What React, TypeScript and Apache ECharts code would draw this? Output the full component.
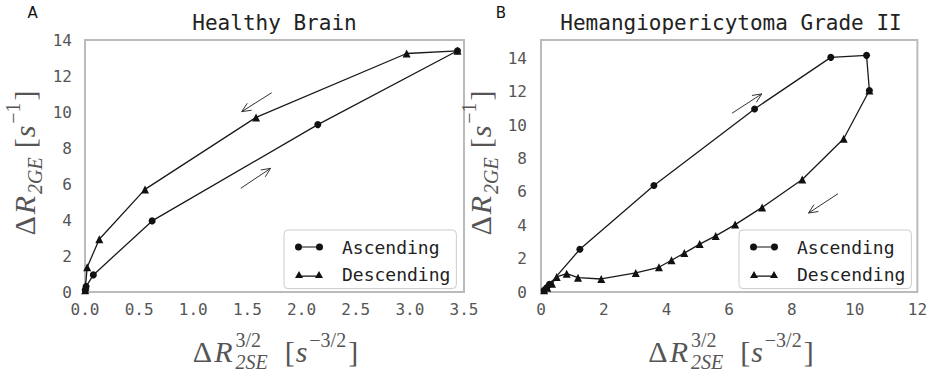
import { useEffect, useRef } from 'react';
import * as echarts from 'echarts';

// Healthy brain: ascending and descending branches of the hysteresis loop
const healthyAscX = [0.003, 0.01, 0.077, 0.62, 2.15, 3.44];
const healthyAscY = [0.08, 0.3, 0.95, 3.95, 9.3, 13.4];
const healthyDescX = [3.44, 2.97, 1.58, 0.554, 0.132, 0.02, 0.005, 0.002];
const healthyDescY = [13.4, 13.25, 9.7, 5.7, 2.93, 1.38, 0.35, 0.1];

// Hemangiopericytoma grade II
const tumorAscX = [0.1, 0.18, 0.27, 1.24, 3.6, 6.81, 9.24, 10.38, 10.47];
const tumorAscY = [0.1, 0.26, 0.46, 2.56, 6.38, 10.97, 14.06, 14.18, 12.07];
const tumorDescX = [10.47, 9.65, 8.33, 7.05, 6.19, 5.57, 5.06, 4.57, 4.16, 3.76, 3.02, 1.92, 1.18, 0.82, 0.5, 0.35, 0.2, 0.1];
const tumorDescY = [12.07, 9.18, 6.74, 5.07, 4.04, 3.36, 2.87, 2.33, 1.9, 1.48, 1.14, 0.78, 0.86, 1.1, 0.9, 0.5, 0.25, 0.1];

// Direction arrows [x0, y0, x1, y1]
const healthyArrows = [
  [1.724, 11.07, 1.447, 10.02],
  [1.438, 5.76, 1.714, 6.87],
];
const tumorArrows = [
  [6.09, 10.71, 7.04, 11.87],
  [9.47, 5.89, 8.53, 4.73],
];

const panelTitles = ['Healthy Brain', 'Hemangiopericytoma Grade II'];
const panelLetters = ['A', 'B'];
const seriesNames = ['Ascending', 'Descending'];

const MONO = '"DejaVu Sans Mono", monospace';
const MATH = '"Liberation Serif", serif';
const LABEL_GRAY = '#555';
const INK = '#1a1a1a';

const zip = (xs: number[], ys: number[]) => xs.map((x, i) => [x, ys[i]]);

const ASC_ICON =
  'path://M0,4A3.5,3.5 0 1 1 7,4A3.5,3.5 0 1 1 0,4Z M21,4A3.5,3.5 0 1 1 28,4A3.5,3.5 0 1 1 21,4Z M3.5,3.4L24.5,3.4L24.5,4.6L3.5,4.6Z';
const DESC_ICON =
  'path://M0,8L4,1L8,8Z M20,8L24,1L28,8Z M4,5.4L24,5.4L24,6.6L4,6.6Z';

type Piece = { t: string; size: number; italic?: boolean; dy?: number; overlap?: boolean; gap?: number };

// Lays out a small math expression as a row of text pieces; an "overlap"
// piece shares its x position with the next one (stacked super/subscript).
function mathLabel(pieces: Piece[], cx: number, cy: number, vertical: boolean) {
  const ctx = document.createElement('canvas').getContext('2d')!;
  const placed: { p: Piece; x: number }[] = [];
  let x = 0;
  let held = 0;
  for (const p of pieces) {
    x += p.gap ?? 0;
    ctx.font = `${p.italic ? 'italic ' : ''}${p.size}px ${MATH}`;
    const w = ctx.measureText(p.t).width;
    placed.push({ p, x });
    if (p.overlap) {
      held = w;
    } else {
      x += Math.max(w, held);
      held = 0;
    }
  }
  const total = x;
  return {
    type: 'group',
    x: cx,
    y: cy,
    rotation: vertical ? Math.PI / 2 : 0,
    children: placed.map(({ p, x: px }) => ({
      type: 'text',
      x: px - total / 2,
      y: p.dy ?? 0,
      style: {
        text: p.t,
        fontSize: p.size,
        fontFamily: MATH,
        fontStyle: p.italic ? 'italic' : 'normal',
        fill: LABEL_GRAY,
        textAlign: 'left',
        textVerticalAlign: 'middle',
      },
    })),
  };
}

const xLabelPieces: Piece[] = [
  { t: 'Δ', size: 30 },
  { t: 'R', size: 30, italic: true, gap: 2 },
  { t: '3/2', size: 20, dy: -11, overlap: true, gap: 3 },
  { t: '2SE', size: 20, italic: true, dy: 11 },
  { t: '[', size: 30, gap: 17 },
  { t: 's', size: 30, italic: true, gap: 1 },
  { t: '−3/2', size: 20, dy: -11, gap: 2 },
  { t: ']', size: 30, gap: 2 },
];
const yLabelPieces: Piece[] = [
  { t: 'Δ', size: 30 },
  { t: 'R', size: 30, italic: true, gap: 2 },
  { t: '2GE', size: 20, italic: true, dy: 11, gap: 2 },
  { t: '[', size: 30, gap: 9 },
  { t: 's', size: 30, italic: true, gap: 1 },
  { t: '−1', size: 20, dy: -11, gap: 2 },
  { t: ']', size: 30, gap: 2 },
];

const grids = [
  { left: 85, top: 40, width: 379, height: 252 },
  { left: 541, top: 40, width: 380, height: 252 },
];

function arrowItem(params: any, api: any) {
  const p0 = api.coord([api.value(0), api.value(1)]);
  const p1 = api.coord([api.value(2), api.value(3)]);
  const ang = Math.atan2(p1[1] - p0[1], p1[0] - p0[0]);
  const len = 10;
  const spread = 0.42;
  const a = [p1[0] - len * Math.cos(ang - spread), p1[1] - len * Math.sin(ang - spread)];
  const b = [p1[0] - len * Math.cos(ang + spread), p1[1] - len * Math.sin(ang + spread)];
  const style = { stroke: '#333', lineWidth: 1, fill: null };
  return {
    type: 'group',
    children: [
      { type: 'line', shape: { x1: p0[0], y1: p0[1], x2: p1[0], y2: p1[1] }, style },
      { type: 'polyline', shape: { points: [a, p1, b] }, style },
    ],
  };
}

export default function App() {
  const ref = useRef<HTMLDivElement>(null);

  useEffect(() => {
    if (!ref.current) return;
    const chart = echarts.init(ref.current, null, { renderer: 'svg' });

    const tickLabel = {
      fontFamily: MONO,
      fontSize: 16,
      color: LABEL_GRAY,
    };
    const hidden = { show: false };

    const lineSeries = (name: string, data: number[][], idx: number, triangle: boolean) => ({
      name,
      type: 'line',
      xAxisIndex: idx,
      yAxisIndex: idx,
      data,
      symbol: triangle ? 'triangle' : 'circle',
      symbolSize: triangle ? 8 : 7,
      showSymbol: true,
      lineStyle: { color: INK, width: 1.3 },
      itemStyle: { color: '#111' },
      emphasis: { disabled: true },
      z: triangle ? 2 : 3,
    });

    chart.setOption({
      animation: false,
      backgroundColor: '#fff',
      grid: grids.map((g) => ({
        ...g,
        show: true,
        borderColor: '#bbb',
        borderWidth: 2,
        backgroundColor: 'transparent',
        containLabel: false,
      })),
      xAxis: [
        {
          gridIndex: 0,
          type: 'value',
          min: 0,
          max: 3.5,
          interval: 0.5,
          axisLine: hidden,
          axisTick: hidden,
          splitLine: hidden,
          axisLabel: { ...tickLabel, margin: 9, formatter: (v: number) => v.toFixed(1) },
        },
        {
          gridIndex: 1,
          type: 'value',
          min: 0,
          max: 12,
          interval: 2,
          axisLine: hidden,
          axisTick: hidden,
          splitLine: hidden,
          axisLabel: { ...tickLabel, margin: 9 },
        },
      ],
      yAxis: [
        {
          gridIndex: 0,
          type: 'value',
          min: 0,
          max: 14,
          interval: 2,
          axisLine: hidden,
          axisTick: hidden,
          splitLine: hidden,
          axisLabel: { ...tickLabel, margin: 13 },
        },
        {
          gridIndex: 1,
          type: 'value',
          min: 0,
          max: 15.1,
          interval: 2,
          axisLine: hidden,
          axisTick: hidden,
          splitLine: hidden,
          axisLabel: {
            ...tickLabel,
            margin: 14,
            showMaxLabel: false,
            formatter: (v: number) => (Math.abs(v % 2) < 1e-9 ? String(v) : ''),
          },
        },
      ],
      legend: grids.map((g, i) => ({
        orient: 'vertical',
        left: i === 0 ? 284 : 739,
        top: 230,
        data: [
          { name: seriesNames[0], icon: ASC_ICON },
          { name: seriesNames[1], icon: DESC_ICON },
        ],
        itemWidth: 28,
        itemHeight: 8,
        itemGap: 5.6,
        padding: [6, 6, 3, 11],
        backgroundColor: '#fff',
        borderColor: '#ccc',
        borderWidth: 1,
        borderRadius: 4,
        selectedMode: false,
        textStyle: {
          fontFamily: MONO,
          fontSize: 18,
          color: '#222',
          lineHeight: 22,
          padding: [0, 0, 0, 14],
        },
      })),
      series: [
        lineSeries(seriesNames[0], zip(healthyAscX, healthyAscY), 0, false),
        lineSeries(seriesNames[1], zip(healthyDescX, healthyDescY), 0, true),
        lineSeries(seriesNames[0], zip(tumorAscX, tumorAscY), 1, false),
        lineSeries(seriesNames[1], zip(tumorDescX, tumorDescY), 1, true),
        {
          type: 'custom',
          xAxisIndex: 0,
          yAxisIndex: 0,
          data: healthyArrows,
          encode: { x: [0, 2], y: [1, 3] },
          renderItem: arrowItem,
          clip: false,
          silent: true,
        },
        {
          type: 'custom',
          xAxisIndex: 1,
          yAxisIndex: 1,
          data: tumorArrows,
          encode: { x: [0, 2], y: [1, 3] },
          renderItem: arrowItem,
          clip: false,
          silent: true,
        },
      ],
      graphic: [
        ...grids.map((g, i) => ({
          type: 'text',
          x: g.left + g.width / 2,
          y: 23,
          style: {
            text: panelTitles[i],
            fontFamily: MONO,
            fontSize: 21,
            fill: '#222',
            textAlign: 'center',
            textVerticalAlign: 'middle',
          },
        })),
        ...[32.5, 500.8].map((x, i) => ({
          type: 'text',
          x,
          y: 13,
          style: {
            text: panelLetters[i],
            fontFamily: '"DejaVu Sans", sans-serif',
            fontSize: 15,
            fill: '#111',
            textAlign: 'center',
            textVerticalAlign: 'middle',
          },
        })),
        mathLabel(xLabelPieces, 275.5, 351, false),
        mathLabel(xLabelPieces, 731, 351, false),
        mathLabel(yLabelPieces, 24, 163, true),
        mathLabel(yLabelPieces, 480, 163, true),
      ],
    });

    return () => chart.dispose();
  }, []);

  return (
    <div
      ref={ref}
      style={{ position: 'fixed', left: 0, top: 0, width: 930, height: 378, background: '#fff' }}
    />
  );
}
